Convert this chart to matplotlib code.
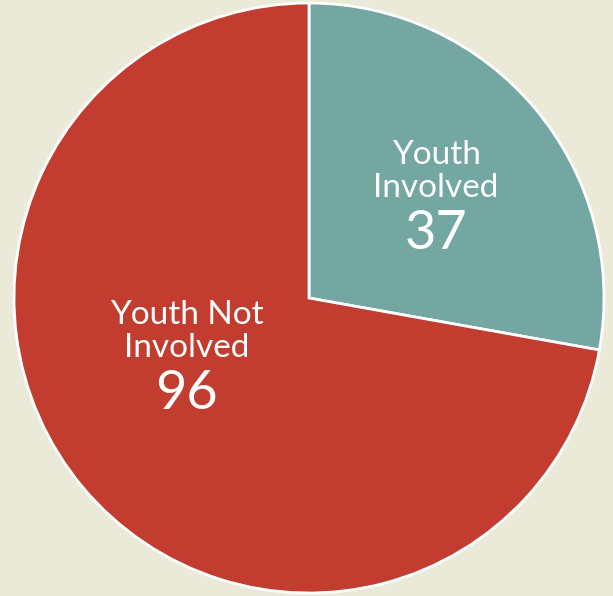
import matplotlib
matplotlib.use("Agg")
import matplotlib.pyplot as plt

# datos del grafico
categorias = ["Youth\nInvolved", "Youth Not\nInvolved"]
valores = [37, 96]
colores = ["#74A6A2", "#C23C2F"]

fondo = "#EBE9D8"

fig = plt.figure(figsize=(6.13, 5.96), dpi=100)
fig.patch.set_facecolor(fondo)
ax = fig.add_axes([0, 0, 1, 1])
ax.set_facecolor(fondo)

wedges, _ = ax.pie(valores, colors=colores, startangle=90, counterclock=False,
                   radius=1.0, wedgeprops=dict(edgecolor="white", linewidth=2))

# limites para que el centro quede en (309, 298) px con radio 295 px
ax.set_xlim(-309 / 295, (613 - 309) / 295)
ax.set_ylim(-(596 - 298) / 295, 298 / 295)
ax.set_aspect("auto")
ax.axis("off")

# posiciones de las etiquetas (x, y del texto, y del numero)
pos = [(0.431, 0.430, 0.218), (-0.414, -0.115, -0.325)]
for cat, val, (x, y, yn) in zip(categorias, valores, pos):
    ax.text(x, y, cat, ha="center", va="center", color="white",
            fontsize=24, family="Lato", fontweight="normal", linespacing=1.12)
    ax.text(x, yn, str(val), ha="center", va="center", color="white",
            fontsize=39, family="Lato", fontweight="normal")

plt.savefig("out.png", dpi=100, facecolor=fondo)
plt.close(fig)
